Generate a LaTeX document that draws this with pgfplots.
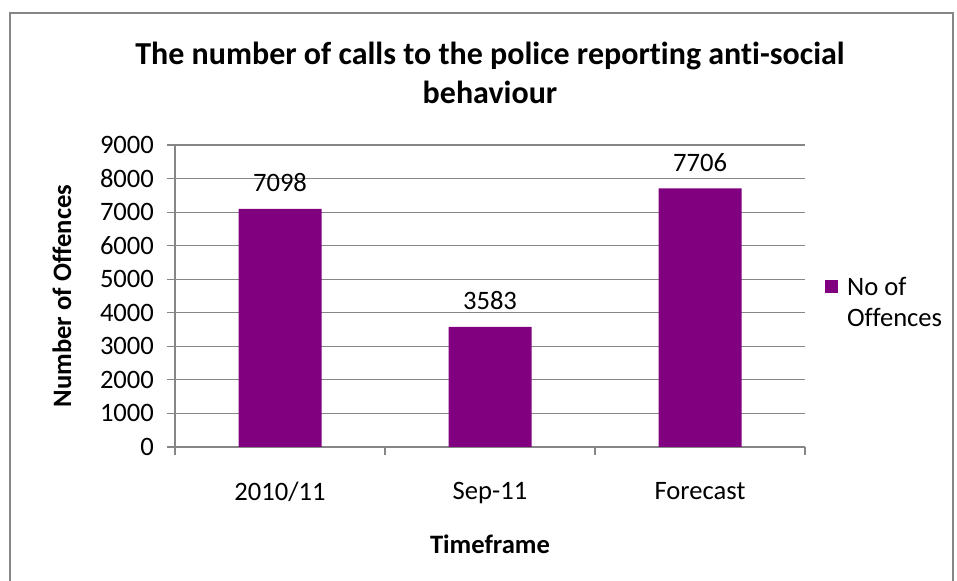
\documentclass[border=0pt]{standalone}
\usepackage{pgfplots}
\pgfplotsset{compat=1.18}
\usepackage{fontspec}
\setmainfont{Carlito}[Ligatures=NoCommon]
\definecolor{barpurple}{HTML}{800080}
\definecolor{gridgrey}{HTML}{868686}
\begin{document}
\begin{tikzpicture}[font=\fontsize{13.3}{16}\selectfont]
\useasboundingbox (0,0) rectangle (478.5pt,290.5pt);
\draw[gridgrey, line width=1pt] (5pt,-5pt) -- (5pt,284pt) -- (476.5pt,284pt) -- (476.5pt,-5pt);
\begin{axis}[
  at={(87.5pt,67pt)}, anchor=south west,
  width=315pt, height=151pt, scale only axis,
  ybar, bar width=41.5pt,
  xmin=-0.5, xmax=2.5, ymin=0, ymax=9000,
  xtick={-0.5,0.5,1.5,2.5}, x tick label as interval,
  xticklabels={2010/11,Sep-11,Forecast},
  x tick label style={yshift=-10pt},
  ytick={0,1000,...,9000},
  ymajorgrids, grid style={gridgrey, line width=0.6pt},
  axis line style={gridgrey, line width=0.6pt},
  axis x line*=bottom, axis y line*=left,
  tick style={gridgrey, line width=0.6pt},
  major tick length=4pt,
  tick align=outside,
  yticklabel style={xshift=-3pt},
  scaled y ticks=false,
  /pgf/number format/assume math mode=true,
  y tick label style={/pgf/number format/1000 sep={}},
  nodes near coords,
  nodes near coords style={/pgf/number format/1000 sep={}, yshift=5pt},
  every node near coord/.append style={font=\fontsize{13.3}{16}\selectfont},
]
\addplot[fill=barpurple, draw=none] coordinates {(0,7098) (1,3583) (2,7706)};
\end{axis}
\node[align=center, font=\fontsize{16}{19.5}\selectfont\bfseries] at (245pt,254pt) {The number of calls to the police reporting anti-social\\behaviour};
\node[rotate=90, font=\fontsize{13.3}{16}\selectfont\bfseries] at (31pt,142.5pt) {Number of Offences};
\node[font=\fontsize{13.3}{16}\selectfont\bfseries] at (245pt,18.5pt) {Timeframe};
\fill[barpurple] (412.5pt,144pt) rectangle (419pt,150.5pt);
\node[anchor=west, align=left, font=\fontsize{13.3}{15.5}\selectfont] at (420pt,139.5pt) {No of\\Offences};
\end{tikzpicture}
\end{document}
